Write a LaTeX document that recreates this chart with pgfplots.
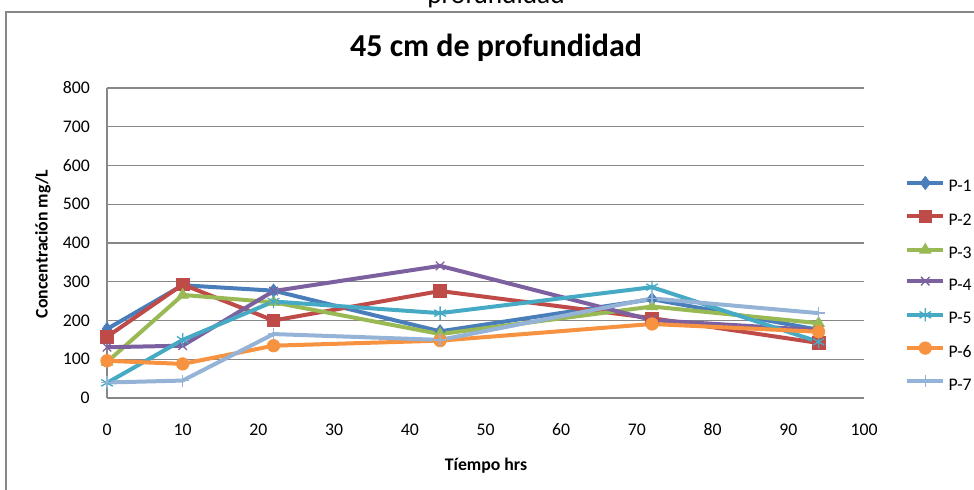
\documentclass[border=0pt]{standalone}
\usepackage{fontspec}
\setmainfont{Carlito}
\usepackage{pgfplots}
\pgfplotsset{compat=1.18}
\definecolor{cP1}{HTML}{4A7EBB}
\definecolor{cP2}{HTML}{BE4B48}
\definecolor{cP3}{HTML}{98B954}
\definecolor{cP4}{HTML}{7D60A0}
\definecolor{cP5}{HTML}{46AAC5}
\definecolor{cP6}{HTML}{F69240}
\definecolor{cP7}{HTML}{95B3D7}
\definecolor{gridc}{HTML}{878787}
\begin{document}
\begin{tikzpicture}[x=0.75pt,y=0.75pt]
\useasboundingbox (0,0) rectangle (974,489);
\clip (0,0) rectangle (974,489);
\draw[gridc, line width=1.2pt] (6,-20) -- (6,477) -- (1000,477);
\node[font=\fontsize{20.5}{24}\selectfont, anchor=base] at (496,485.7) {profundidad};
\node[font=\fontsize{24}{28}\selectfont\bfseries, anchor=base] at (496,432) {45 cm de profundidad};
\node[font=\fontsize{13.3}{16}\selectfont\bfseries, rotate=90] at (43,245) {Concentración mg/L};
\node[font=\fontsize{13.3}{16}\selectfont\bfseries] at (486,23) {Tíempo hrs};
\begin{axis}[
  at={(80.25pt,68.25pt)}, anchor=south west,
  scale only axis, width=567.75pt, height=232.5pt,
  xmin=0, xmax=100, ymin=0, ymax=800,
  xtick={0,10,...,100}, ytick={0,100,...,800},
  axis x line*=bottom, axis y line*=left,
  axis line style={gridc, line width=0.8pt, -},
  ymajorgrids, grid style={gridc, line width=1pt},
  major tick length=0pt,
  /pgf/number format/assume math mode=true,
  tick label style={font=\fontsize{13.3}{16}\selectfont, inner sep=0pt},
  xticklabel style={anchor=center, yshift=-24pt},
  yticklabel style={anchor=east, xshift=-12.75pt},
  clip=false,
  every axis plot/.append style={line width=3pt},
  legend style={at={(1.0542,0.716)}, anchor=north west, draw=none, fill=none,
    font=\fontsize{13.3}{16}\selectfont, row sep=11pt, column sep=2.5pt, inner sep=0pt,
    nodes={inner sep=0pt, text height=9pt, text depth=2.5pt}},
  legend cell align=left,
  legend image code/.code={\draw[mark repeat=2,mark phase=2] plot coordinates {(0pt,3.5pt) (13.5pt,3.5pt) (27pt,3.5pt)};},
]
\addplot[cP1, mark=diamond*, mark size=5pt, mark options={solid, fill=cP1, line width=0.5pt}] coordinates {(0,178)(10,291)(22,277)(44,172)(72,255)(94,176)};
\addlegendentry{P-1}
\addplot[cP2, mark=square*, mark size=4.7pt, mark options={solid, fill=cP2, line width=0.5pt}] coordinates {(0,158)(10,293)(22,200)(44,276)(72,206)(94,142)};
\addlegendentry{P-2}
\addplot[cP3, mark=triangle*, mark size=5pt, mark options={solid, fill=cP3, line width=0.5pt}] coordinates {(0,93)(10,266)(22,247)(44,165)(72,236)(94,193)};
\addlegendentry{P-3}
\addplot[cP4, mark=x, mark size=4.5pt, mark options={solid, line width=1pt}] coordinates {(0,131)(10,135)(22,276)(44,341)(72,201)(94,175)};
\addlegendentry{P-4}
\addplot[cP5, mark=asterisk, mark size=5pt, mark options={solid, line width=1pt}] coordinates {(0,39)(10,150)(22,249)(44,219)(72,286)(94,145)};
\addlegendentry{P-5}
\addplot[cP6, mark=*, mark size=4.7pt, mark options={solid, fill=cP6, line width=0.5pt}] coordinates {(0,96)(10,88)(22,135)(44,148)(72,191)(94,171)};
\addlegendentry{P-6}
\addplot[cP7, mark=+, mark size=4.5pt, mark options={solid, line width=1pt}] coordinates {(0,40)(10,45)(22,165)(44,150)(72,257)(94,219)};
\addlegendentry{P-7}
\end{axis}
\end{tikzpicture}
\end{document}
